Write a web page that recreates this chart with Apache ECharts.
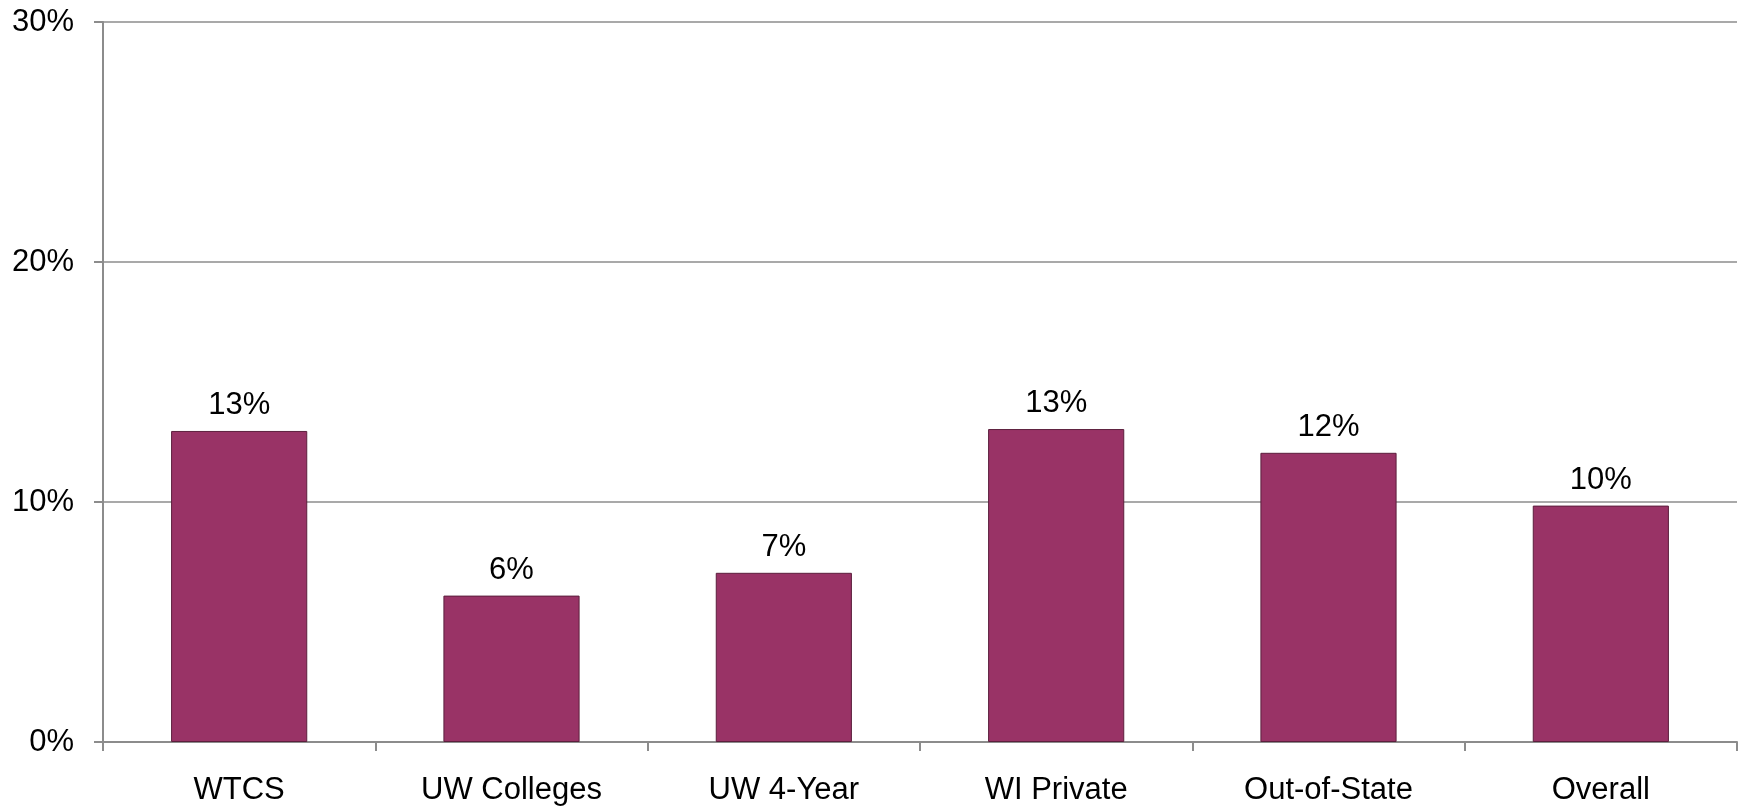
<!DOCTYPE html>
<html>
<head>
<meta charset="utf-8">
<script src="https://cdn.jsdelivr.net/npm/echarts@6/dist/echarts.min.js"></script>
<style>
html,body{margin:0;padding:0;background:#fff;}
#chart{width:1744px;height:807px;}
</style>
</head>
<body>
<div id="chart"></div>
<script>
const categories = ['WTCS', 'UW Colleges', 'UW 4-Year', 'WI Private', 'Out-of-State', 'Overall'];
const values = [12.96, 6.1, 7.05, 13.04, 12.05, 9.85];
const yTicks = [0, 10, 20, 30];

const chart = echarts.init(document.getElementById('chart'));
const font = '"Liberation Sans", Arial, sans-serif';
const gray = '#8c8c8c';
chart.setOption({
  animation: false,
  backgroundColor: '#ffffff',
  grid: { left: 103, top: 22, right: 7, bottom: 65, containLabel: false },
  xAxis: {
    type: 'category',
    data: categories,
    axisLine: { lineStyle: { color: gray, width: 2 } },
    axisTick: { show: true, length: 9, alignWithLabel: false, lineStyle: { color: gray, width: 2 } },
    axisLabel: { color: '#000', fontFamily: font, fontSize: 31, margin: 33 }
  },
  yAxis: {
    type: 'value',
    min: yTicks[0],
    max: yTicks[yTicks.length - 1],
    interval: 10,
    axisLine: { show: true, lineStyle: { color: gray, width: 2 } },
    axisTick: { show: true, length: 9, lineStyle: { color: gray, width: 2 } },
    splitLine: { show: true, lineStyle: { color: gray, width: 1.5 } },
    axisLabel: { color: '#000', fontFamily: font, fontSize: 31, margin: 29, formatter: '{value}%' }
  },
  series: [{
    type: 'bar',
    data: values,
    barWidth: '50%',
    itemStyle: { color: '#993366', borderColor: '#5c1f3d', borderWidth: 1 },
    label: {
      show: true,
      position: 'top',
      distance: 10,
      color: '#000',
      fontFamily: font,
      fontSize: 31,
      formatter: p => Math.round(p.value) + '%'
    }
  }]
});
</script>
</body>
</html>
